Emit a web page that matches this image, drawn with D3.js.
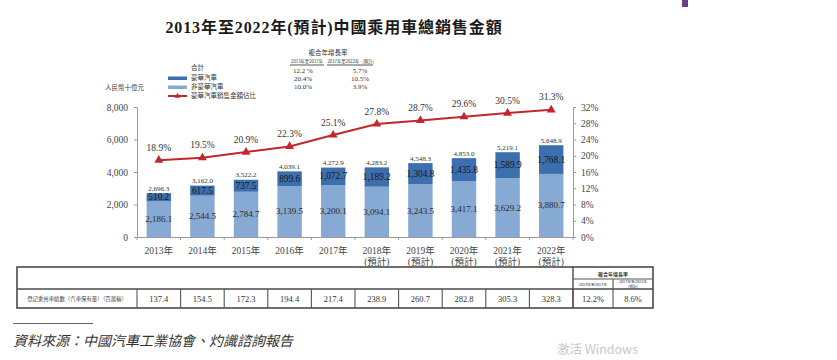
<!DOCTYPE html>
<html><head><meta charset="utf-8">
<script src="https://cdn.jsdelivr.net/npm/d3@7/dist/d3.min.js"></script>
<style>
html,body{margin:0;padding:0;background:#fff;}
svg{display:block;}
</style>
</head><body>
<svg id="chart" width="837" height="360"></svg>
<script>
// ---------- data ----------
const years = ["2013年","2014年","2015年","2016年","2017年","2018年","2019年","2020年","2021年","2022年"];
const yearSub = ["","","","","","(預計)","(預計)","(預計)","(預計)","(預計)"];
const nonLuxury = [2186.1,2544.5,2784.7,3139.5,3200.1,3094.1,3243.5,3417.1,3629.2,3880.7];
const luxury = [510.2,617.5,737.5,899.6,1072.7,1189.2,1304.8,1435.8,1589.9,1768.1];
const totals = [2696.3,3162.0,3522.2,4039.1,4272.9,4283.2,4548.3,4853.0,5219.1,5648.9];
const luxShare = [18.9,19.5,20.9,22.3,25.1,27.8,28.7,29.6,30.5,31.3];
const leftTicks = [0,2000,4000,6000,8000];
const rightTicks = [0,4,8,12,16,20,24,28,32];
const legendNames = ["合計","豪華汽車","非豪華汽車","豪華汽車銷售金額佔比"];
const cagrHeaders = ["2013年至2017年","2017年至2022年（預計）"];
const cagr1317 = ["12.2 %","20.4%","10.0%"];
const cagr1722 = ["5.7%","10.5%","3.9%"];
const vehicles = [137.4,154.5,172.3,194.4,217.4,238.9,260.7,282.8,305.3,328.3];
const vehicleCagr = ["12.2%","8.6%"];
const tableRowLabel = "登記乘用車總數（汽車保有量）（百萬輛）";

// ---------- setup ----------
const svg = d3.select("#chart");
const SERIF = "'Liberation Serif','Times New Roman','Noto Sans CJK TC',serif";
const CJK = "'Noto Sans CJK TC','Liberation Serif',serif";
const cLux = "#3d6fae", cNon = "#86aad4", cRed = "#c1272d", axisC = "#9a9a9a";

const x = d3.scaleBand().domain(years).range([137,573]).paddingInner(0.44).paddingOuter(0.22);
const y = d3.scaleLinear().domain([0,8000]).range([237,107]);
const y2 = d3.scaleLinear().domain([0,32]).range([237,107]);

// purple mark
svg.append("rect").attr("x",682).attr("y",0).attr("width",6).attr("height",7).attr("fill","#6e3f7c");

// title
svg.append("text").attr("x",334).attr("y",33).attr("text-anchor","middle")
  .attr("font-family",SERIF).attr("font-weight","bold").attr("font-size",16).attr("letter-spacing",0.9).attr("fill","#1a1a1a")
  .text("2013年至2022年(預計)中國乘用車總銷售金額");

// unit label
svg.append("text").attr("x",105).attr("y",90).attr("font-family",CJK).attr("font-size",6.5).attr("fill","#444").text("人民幣十億元");

// legend
const lg = svg.append("g").attr("font-family",CJK).attr("font-size",6.5).attr("fill","#333");
lg.append("text").attr("x",191).attr("y",70).text(legendNames[0]);
lg.append("rect").attr("x",168).attr("y",76.5).attr("width",19).attr("height",3.5).attr("fill",cLux);
lg.append("text").attr("x",191).attr("y",80).text(legendNames[1]);
lg.append("rect").attr("x",168).attr("y",85.5).attr("width",19).attr("height",3.5).attr("fill",cNon);
lg.append("text").attr("x",191).attr("y",89).text(legendNames[2]);
lg.append("line").attr("x1",168).attr("x2",187).attr("y1",96).attr("y2",96).attr("stroke",cRed).attr("stroke-width",2);
lg.append("path").attr("d",d3.symbol(d3.symbolTriangle,14)()).attr("transform","translate(177.5,96)").attr("fill",cRed);
lg.append("text").attr("x",191).attr("y",98).text(legendNames[3]);

// CAGR legend table
const cg = svg.append("g").attr("font-family",SERIF).attr("fill","#333");
cg.append("text").attr("x",328).attr("y",55).attr("text-anchor","middle").attr("font-family",CJK).attr("font-size",6.5).text("複合年增長率");
cg.append("text").attr("x",307).attr("y",63).attr("text-anchor","middle").attr("font-family",CJK).attr("font-size",4.3).text(cagrHeaders[0]);
cg.append("text").attr("x",352).attr("y",63).attr("text-anchor","middle").attr("font-family",CJK).attr("font-size",4.3).text(cagrHeaders[1]);
cg.append("line").attr("x1",290).attr("x2",324).attr("y1",65).attr("y2",65).attr("stroke","#444").attr("stroke-width",0.9);
cg.append("line").attr("x1",327).attr("x2",373).attr("y1",65).attr("y2",65).attr("stroke","#444").attr("stroke-width",0.9);
cagr1317.forEach((v,i)=>{
  cg.append("text").attr("x",303).attr("y",73+i*8.2).attr("text-anchor","middle").attr("font-size",7).text(v);
  cg.append("text").attr("x",360).attr("y",73+i*8.2).attr("text-anchor","middle").attr("font-size",7).text(cagr1722[i]);
});

// axes
const axL = svg.append("g").attr("transform","translate(137,0)")
  .call(d3.axisLeft(y).tickValues(leftTicks).tickFormat(d3.format(",")).tickSize(3).tickPadding(6));
const axR = svg.append("g").attr("transform","translate(573,0)")
  .call(d3.axisRight(y2).tickValues(rightTicks).tickFormat(d=>d+"%").tickSize(3).tickPadding(5));
const axB = svg.append("g").attr("transform","translate(0,237)")
  .call(d3.axisBottom(x).tickSize(0).tickFormat(""));
[axL,axR,axB].forEach(a=>{
  a.select(".domain").attr("stroke",axisC);
  a.selectAll(".tick line").attr("stroke",axisC);
  a.selectAll("text").attr("font-family",SERIF).attr("font-size",9.5).attr("fill","#444");
});
// bottom ticks at band boundaries
const step = x.step();
svg.append("g").selectAll("line").data(d3.range(years.length+1)).join("line")
  .attr("x1",i=>x(years[0]) - x.paddingOuter()*step + i*step)
  .attr("x2",i=>x(years[0]) - x.paddingOuter()*step + i*step)
  .attr("y1",237).attr("y2",240).attr("stroke",axisC);

// x labels
const xl = svg.append("g").attr("font-family",SERIF).attr("font-size",9.5).attr("fill","#444").attr("text-anchor","middle");
years.forEach((yr,i)=>{
  const cx = x(yr)+x.bandwidth()/2;
  xl.append("text").attr("x",cx).attr("y",254).text(yr);
  if(yearSub[i]) xl.append("text").attr("x",cx).attr("y",264.5).text(yearSub[i]);
});

// bars
const bars = svg.append("g");
years.forEach((yr,i)=>{
  const bx = x(yr), bw = x.bandwidth(), cx = bx+bw/2;
  bars.append("rect").attr("x",bx).attr("width",bw).attr("y",y(nonLuxury[i])).attr("height",y(0)-y(nonLuxury[i])).attr("fill",cNon);
  bars.append("rect").attr("x",bx).attr("width",bw).attr("y",y(nonLuxury[i]+luxury[i])).attr("height",y(0)-y(luxury[i])).attr("fill",cLux);
  const mNon = (y(0)+y(nonLuxury[i]))/2, mLux = (y(nonLuxury[i])+y(nonLuxury[i]+luxury[i]))/2;
  bars.append("text").attr("x",cx).attr("y",mNon+3).attr("text-anchor","middle").attr("font-family",SERIF).attr("font-size",9).attr("fill","#2a2a2a").text(d3.format(",.1f")(nonLuxury[i]));
  bars.append("text").attr("x",cx).attr("y",mLux+3).attr("text-anchor","middle").attr("font-family",SERIF).attr("font-size",9.3).attr("fill","#151515").text(d3.format(",.1f")(luxury[i]));
  bars.append("text").attr("x",cx).attr("y",y(totals[i])-2.5).attr("text-anchor","middle").attr("font-family",SERIF).attr("font-size",7).attr("fill","#333").text(d3.format(",.1f")(totals[i]));
});

// line
const lineGen = d3.line().x((d,i)=>x(years[i])+x.bandwidth()/2).y(d=>y2(d));
svg.append("path").datum(luxShare).attr("d",lineGen).attr("fill","none").attr("stroke",cRed).attr("stroke-width",2);
svg.append("g").selectAll("path").data(luxShare).join("path")
  .attr("d",d3.symbol(d3.symbolTriangle,34)())
  .attr("transform",(d,i)=>`translate(${x(years[i])+x.bandwidth()/2},${y2(d)})`).attr("fill",cRed);
svg.append("g").selectAll("text").data(luxShare).join("text")
  .attr("x",(d,i)=>x(years[i])+x.bandwidth()/2).attr("y",d=>y2(d)-9.5)
  .attr("text-anchor","middle").attr("font-family",SERIF).attr("font-size",9.5).attr("fill","#333")
  .text(d=>d.toFixed(1)+"%");

// bottom table
const tb = svg.append("g");
const tl = 17, tr = 653, tt = 267, tm = 289, tbm = 308;
const colEdge = i => x(years[0]) - x.paddingOuter()*step + i*step; // i=0..10
const c0 = colEdge(0), c10 = colEdge(10), cMid = (c10+tr)/2;
const thin = "#555";
tb.append("rect").attr("x",tl).attr("y",tt).attr("width",tr-tl).attr("height",tbm-tt).attr("fill","none").attr("stroke","#4a4a4a").attr("stroke-width",1.6);
tb.append("line").attr("x1",tl).attr("x2",tr).attr("y1",tm).attr("y2",tm).attr("stroke","#4a4a4a").attr("stroke-width",1.3);
d3.range(11).forEach(i=>{
  tb.append("line").attr("x1",colEdge(i)).attr("x2",colEdge(i)).attr("y1",tm).attr("y2",tbm).attr("stroke",thin).attr("stroke-width",1.1);
});
tb.append("line").attr("x1",c10).attr("x2",c10).attr("y1",tt).attr("y2",tbm).attr("stroke","#4a4a4a").attr("stroke-width",1.4);
tb.append("line").attr("x1",cMid).attr("x2",cMid).attr("y1",279).attr("y2",tbm).attr("stroke",thin).attr("stroke-width",1.1);
tb.append("line").attr("x1",c10).attr("x2",tr).attr("y1",279).attr("y2",279).attr("stroke",thin).attr("stroke-width",1.1);
tb.append("text").attr("x",(c10+tr)/2).attr("y",275.5).attr("text-anchor","middle").attr("font-family",CJK).attr("font-weight","bold").attr("font-size",5).attr("fill","#333").text("複合年增長率");
tb.append("text").attr("x",(c10+cMid)/2).attr("y",285.5).attr("text-anchor","middle").attr("font-family",CJK).attr("font-size",3.8).attr("fill","#333").text(cagrHeaders[0]);
tb.append("text").attr("x",(cMid+tr)/2).attr("y",283.3).attr("text-anchor","middle").attr("font-family",CJK).attr("font-size",3.8).attr("fill","#333").text("2017年至2022年");
tb.append("text").attr("x",(cMid+tr)/2).attr("y",287.6).attr("text-anchor","middle").attr("font-family",CJK).attr("font-size",3.8).attr("fill","#333").text("(預計)");
tb.append("text").attr("x",(tl+c0)/2).attr("y",300.5).attr("text-anchor","middle").attr("font-family",CJK).attr("font-size",5.4).attr("fill","#444").text(tableRowLabel);
vehicles.forEach((v,i)=>{
  tb.append("text").attr("x",(colEdge(i)+colEdge(i+1))/2).attr("y",301.5).attr("text-anchor","middle").attr("font-family",SERIF).attr("font-size",8.5).attr("fill","#333").text(v.toFixed(1));
});
tb.append("text").attr("x",(c10+cMid)/2).attr("y",301.5).attr("text-anchor","middle").attr("font-family",SERIF).attr("font-size",8.5).attr("fill","#333").text(vehicleCagr[0]);
tb.append("text").attr("x",(cMid+tr)/2).attr("y",301.5).attr("text-anchor","middle").attr("font-family",SERIF).attr("font-size",8.5).attr("fill","#333").text(vehicleCagr[1]);

// footnote
svg.append("line").attr("x1",13).attr("x2",93).attr("y1",323.5).attr("y2",323.5).attr("stroke","#555").attr("stroke-width",0.9);
svg.append("text").attr("x",13).attr("y",346).attr("font-family",CJK).attr("font-style","italic").attr("font-size",14).attr("fill","#333")
  .text("資料來源：中國汽車工業協會、灼識諮詢報告");

// watermark
svg.append("text").attr("x",557).attr("y",354).attr("font-family","'Noto Sans CJK SC','Noto Sans',sans-serif").attr("font-size",12.5).attr("fill","#c8c8c8").text("激活 Windows");
</script>
</body></html>
